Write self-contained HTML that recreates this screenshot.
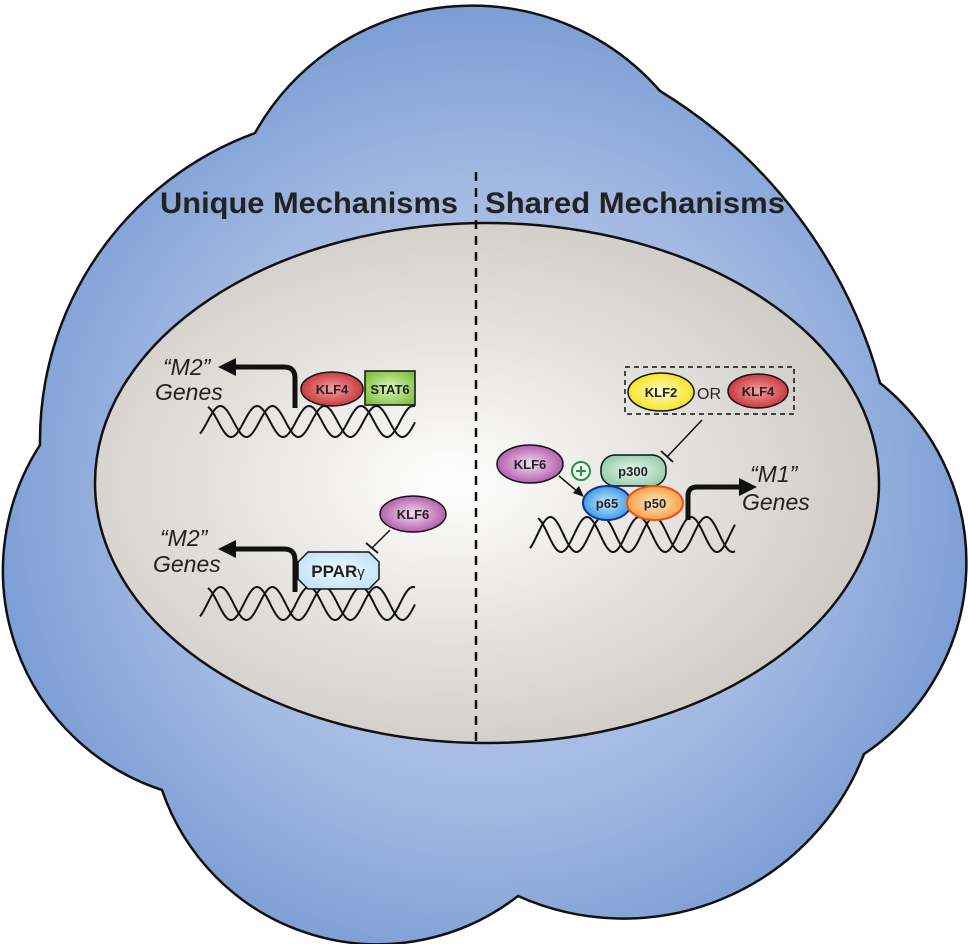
<!DOCTYPE html>
<html><head><meta charset="utf-8"><style>
html,body{margin:0;padding:0;background:#fff}
svg{display:block}
text{font-family:"Liberation Sans",Arial,sans-serif}
</style></head><body>
<svg id="s" width="968" height="944" viewBox="0 0 968 944" xmlns="http://www.w3.org/2000/svg">
<defs>
<radialGradient id="bg" cx="0.5" cy="0.52" r="0.55">
<stop offset="0" stop-color="#c6d4ef"/><stop offset="0.6" stop-color="#a3b9e2"/><stop offset="1" stop-color="#7599d2"/>
</radialGradient>
<radialGradient id="el" cx="0.45" cy="0.5" r="0.55">
<stop offset="0" stop-color="#ffffff"/><stop offset="0.5" stop-color="#e6e4e0"/><stop offset="1" stop-color="#cfccc6"/>
</radialGradient>
<radialGradient id="red" cx="0.5" cy="0.5" r="0.6"><stop offset="0" stop-color="#f4a0a0"/><stop offset="1" stop-color="#c0272d"/></radialGradient>
<radialGradient id="yel" cx="0.5" cy="0.5" r="0.6"><stop offset="0" stop-color="#fffbd0"/><stop offset="1" stop-color="#f5e000"/></radialGradient>
<radialGradient id="pur" cx="0.5" cy="0.5" r="0.6"><stop offset="0" stop-color="#f3dcf0"/><stop offset="1" stop-color="#a7479f"/></radialGradient>
<radialGradient id="grn" cx="0.5" cy="0.5" r="0.6"><stop offset="0" stop-color="#e0f5c0"/><stop offset="1" stop-color="#7ec13e"/></radialGradient>
<radialGradient id="mint" cx="0.5" cy="0.5" r="0.6"><stop offset="0" stop-color="#e8f6ee"/><stop offset="1" stop-color="#8fcaa6"/></radialGradient>
<radialGradient id="blu" cx="0.5" cy="0.5" r="0.6"><stop offset="0" stop-color="#cbe9fb"/><stop offset="1" stop-color="#1e8fe0"/></radialGradient>
<radialGradient id="org" cx="0.5" cy="0.5" r="0.6"><stop offset="0" stop-color="#fde6c8"/><stop offset="1" stop-color="#f7962a"/></radialGradient>
<radialGradient id="lb" cx="0.5" cy="0.5" r="0.6"><stop offset="0" stop-color="#f0f9ff"/><stop offset="1" stop-color="#bfe2f7"/></radialGradient>
</defs>
<path d="M40,445 A328,328 0 0 1 255,133 A249,249 0 0 1 660,91 A496,496 0 0 1 880,383 A230,230 0 0 1 864,754 A258,258 0 0 1 518,896 A228,228 0 0 1 162,790 A231,231 0 0 1 40,445 Z" fill="url(#bg)" stroke="#111" stroke-width="2.5"/>
<ellipse cx="487" cy="483" rx="392" ry="260" fill="url(#el)" stroke="#111" stroke-width="2.5"/>
<line x1="476" y1="172" x2="476" y2="743" stroke="#111" stroke-width="2.5" stroke-dasharray="9,7"/>
<text x="160" y="213" font-size="30" font-weight="bold" textLength="298" lengthAdjust="spacingAndGlyphs" fill="#222">Unique Mechanisms</text>
<text x="485" y="213" font-size="30" font-weight="bold" textLength="300" lengthAdjust="spacingAndGlyphs" fill="#222">Shared Mechanisms</text>
<g id="dna" fill="none" stroke="#111" stroke-width="2"></g>
<!-- top left -->
<text x="163" y="375" font-size="23" font-style="italic" fill="#222">“M2”</text>
<text x="155" y="400" font-size="23" font-style="italic" fill="#222">Genes</text>
<path d="M295,408 V378 Q295,367 284,367 H232" fill="none" stroke="#111" stroke-width="5"/>
<polygon points="218,367 236,358 236,376" fill="#111"/>
<ellipse cx="332" cy="389" rx="31" ry="17" fill="url(#red)" stroke="#111" stroke-width="1.5"/>
<text x="332" y="394" font-size="13" font-weight="bold" text-anchor="middle" fill="#222">KLF4</text>
<rect x="365" y="371" width="50" height="34" fill="url(#grn)" stroke="#111" stroke-width="1.5"/>
<text x="390" y="394" font-size="13" font-weight="bold" text-anchor="middle" fill="#222">STAT6</text>
<!-- bottom left -->
<text x="160" y="546" font-size="23" font-style="italic" fill="#222">“M2”</text>
<text x="153" y="572" font-size="23" font-style="italic" fill="#222">Genes</text>
<path d="M295,592 V560 Q295,549 284,549 H232" fill="none" stroke="#111" stroke-width="5"/>
<polygon points="218,549 236,540 236,558" fill="#111"/>
<ellipse cx="413" cy="514" rx="33" ry="18" fill="url(#pur)" stroke="#111" stroke-width="1.5"/>
<text x="413" y="519" font-size="13" font-weight="bold" text-anchor="middle" fill="#222">KLF6</text>
<line x1="390" y1="530" x2="372" y2="548" stroke="#111" stroke-width="1.5"/>
<line x1="366" y1="543" x2="378" y2="553" stroke="#111" stroke-width="1.8"/>
<polygon points="308,552 369,552 379,562 379,579 369,589 308,589 298,579 298,562" fill="url(#lb)" stroke="#111" stroke-width="1.5"/>
<text x="338" y="577" font-size="17" font-weight="bold" text-anchor="middle" fill="#222">PPAR<tspan font-weight="normal" font-size="15">γ</tspan></text>
<!-- right -->
<rect x="625" y="367" width="169" height="47" fill="none" stroke="#111" stroke-width="1.5" stroke-dasharray="5,4"/>
<ellipse cx="661" cy="392" rx="33" ry="19" fill="url(#yel)" stroke="#111" stroke-width="1.5"/>
<text x="661" y="397" font-size="13" font-weight="bold" text-anchor="middle" fill="#222">KLF2</text>
<text x="709" y="399" font-size="16" text-anchor="middle" fill="#222">OR</text>
<ellipse cx="758" cy="391" rx="30" ry="17" fill="url(#red)" stroke="#111" stroke-width="1.5"/>
<text x="758" y="396" font-size="13" font-weight="bold" text-anchor="middle" fill="#222">KLF4</text>
<line x1="702" y1="420" x2="667" y2="457" stroke="#111" stroke-width="1.5"/>
<line x1="661" y1="451" x2="673" y2="462" stroke="#111" stroke-width="1.8"/>
<ellipse cx="530" cy="464" rx="33" ry="19" fill="url(#pur)" stroke="#111" stroke-width="1.5"/>
<text x="530" y="469" font-size="13" font-weight="bold" text-anchor="middle" fill="#222">KLF6</text>
<circle cx="581" cy="471" r="9" fill="#fff" stroke="#1a9a3a" stroke-width="2"/>
<path d="M576,471 H586 M581,466 V476" stroke="#1a9a3a" stroke-width="2"/>
<line x1="559" y1="476" x2="578" y2="492" stroke="#111" stroke-width="1.5"/>
<polygon points="584,497 573,493 579,486" fill="#111"/>
<rect x="601" y="455" width="65" height="31" rx="14" fill="url(#mint)" stroke="#111" stroke-width="1.5"/>
<text x="633" y="476" font-size="13" font-weight="bold" text-anchor="middle" fill="#222">p300</text>
<ellipse cx="607" cy="503" rx="24" ry="17" fill="url(#blu)" stroke="#1b2f8c" stroke-width="2"/>
<text x="607" y="508" font-size="13" font-weight="bold" text-anchor="middle" fill="#222">p65</text>
<ellipse cx="655" cy="503" rx="28" ry="17" fill="url(#org)" stroke="#e8501e" stroke-width="2"/>
<text x="655" y="508" font-size="13" font-weight="bold" text-anchor="middle" fill="#222">p50</text>
<path d="M688,520 V496 Q688,487 697,487 H742" fill="none" stroke="#111" stroke-width="5"/>
<polygon points="757,487 739,478 739,496" fill="#111"/>
<text x="750" y="482" font-size="23" font-style="italic" fill="#222">“M1”</text>
<text x="742" y="510" font-size="23" font-style="italic" fill="#222">Genes</text>
</svg>
<script>
(function(){
var g=document.getElementById('dna');
function strand(x0,x1,ymid,amp,per,ph){
 var d='';for(var x=x0;x<=x1;x+=1){var y=ymid-amp*Math.sin((x-x0)/per*2*Math.PI+ph);d+=(d?'L':'M')+x+','+y.toFixed(1);}
 var p=document.createElementNS('http://www.w3.org/2000/svg','path');p.setAttribute('d',d);g.appendChild(p);}
function dna(x0,x1,yt,yb){var m=(yt+yb)/2,a=(yb-yt)/2;strand(x0,x1,m,a,52,-0.9);strand(x0+8,x1,m,a,52,-0.9+Math.PI*0.9);}
dna(200,415,406,437);dna(200,415,587,620);dna(530,735,517,552);
})();
</script>
</body></html>
